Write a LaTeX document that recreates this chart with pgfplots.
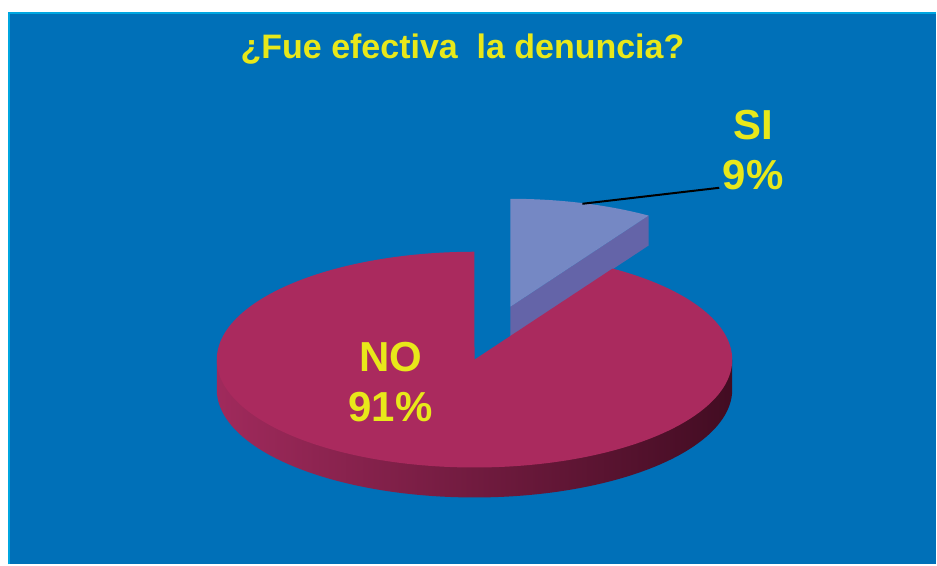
\documentclass[border=0pt]{standalone}
\usepackage{pgfplots}
\usepackage{pgfplotstable}
\pgfplotsset{compat=1.18}
\usepackage{fontspec}
\setmainfont{Liberation Sans}
\definecolor{bg}{HTML}{0070B8}
\definecolor{edge}{HTML}{00A6E0}
\definecolor{notop}{HTML}{AA2A5E}
\definecolor{noL}{HTML}{A02A5C}
\definecolor{noR}{HTML}{420C22}
\definecolor{sitop}{HTML}{7588C4}
\definecolor{siside}{HTML}{6464A8}
\definecolor{yel}{HTML}{E8E81A}
\pgfplotstableread{
label value
SI 9
NO 91
}\piedata
\begin{document}
\begin{tikzpicture}
\pgfplotstablegetelem{0}{value}\of\piedata
\let\vSI\pgfplotsretval
\pgfmathsetmacro{\aSI}{\vSI*3.6}
\def\cx{475}\def\cy{360}\def\ra{258}\def\rb{108}\def\dep{30}
\pgfmathsetmacro{\sx}{\cx+36}
\pgfmathsetmacro{\sy}{\cy-53}
\pgfmathsetmacro{\sdy}{\sy+\dep}
\pgfmathsetmacro{\kx}{\sx+\ra*sin(\aSI)}
\pgfmathsetmacro{\ky}{\sy-\rb*cos(\aSI)}
\pgfmathsetmacro{\kdy}{\ky+\dep}
\pgfmathsetmacro{\lx}{\cx-\ra}
\pgfmathsetmacro{\rx}{\cx+\ra}
\begin{axis}[scale only axis, width=702.75pt, height=423.75pt,
  xmin=0, xmax=937, ymin=0, ymax=565, y dir=reverse, hide axis, clip=false]
\fill[white] (axis cs:0,0) rectangle (axis cs:937,565);
\fill[bg] (axis cs:8,12) rectangle (axis cs:937,565);
\draw[edge, line width=1.5pt] (axis cs:9,565) -- (axis cs:9,13) -- (axis cs:937,13);
% SI slice (exploded)
\addplot[fill=siside, draw=none] coordinates {(\sx,\sy) (\kx,\ky) (\kx,\kdy) (\sx,\sdy)} -- cycle;
\addplot[fill=sitop, draw=none, domain=0:\aSI, samples=40] ({\sx+\ra*sin(x)},{\sy-\rb*cos(x)}) -- (axis cs:\sx,\sy) -- cycle;
% NO slice side
\addplot[left color=noL, right color=noR, draw=none, domain=90:270, samples=120] ({\cx+\ra*sin(x)},{\cy+\dep-\rb*cos(x)}) -- (axis cs:\lx,\cy) -- (axis cs:\rx,\cy) -- cycle;
% NO slice top
\addplot[fill=notop, draw=none, domain=\aSI:360, samples=200] ({\cx+\ra*sin(x)},{\cy-\rb*cos(x)}) -- (axis cs:\cx,\cy) -- cycle;
% leader line
\addplot[black, line width=1.5pt] coordinates {(583,204) (720,188)};
% labels
\node[anchor=base, text=yel, font=\bfseries\fontsize{25.5}{30}\selectfont] at (axis cs:463,59) {¿Fue efectiva\ \ la denuncia?};
\node[anchor=base, text=yel, font=\bfseries\fontsize{31.5}{36}\selectfont] at (axis cs:754,140) {SI};
\node[anchor=base, text=yel, font=\bfseries\fontsize{31.5}{36}\selectfont] at (axis cs:754,190) {9\%};
\node[anchor=base, text=yel, font=\bfseries\fontsize{31.5}{36}\selectfont] at (axis cs:391,372) {NO};
\node[anchor=base, text=yel, font=\bfseries\fontsize{31.5}{36}\selectfont] at (axis cs:391,422) {91\%};
\end{axis}
\end{tikzpicture}
\end{document}
